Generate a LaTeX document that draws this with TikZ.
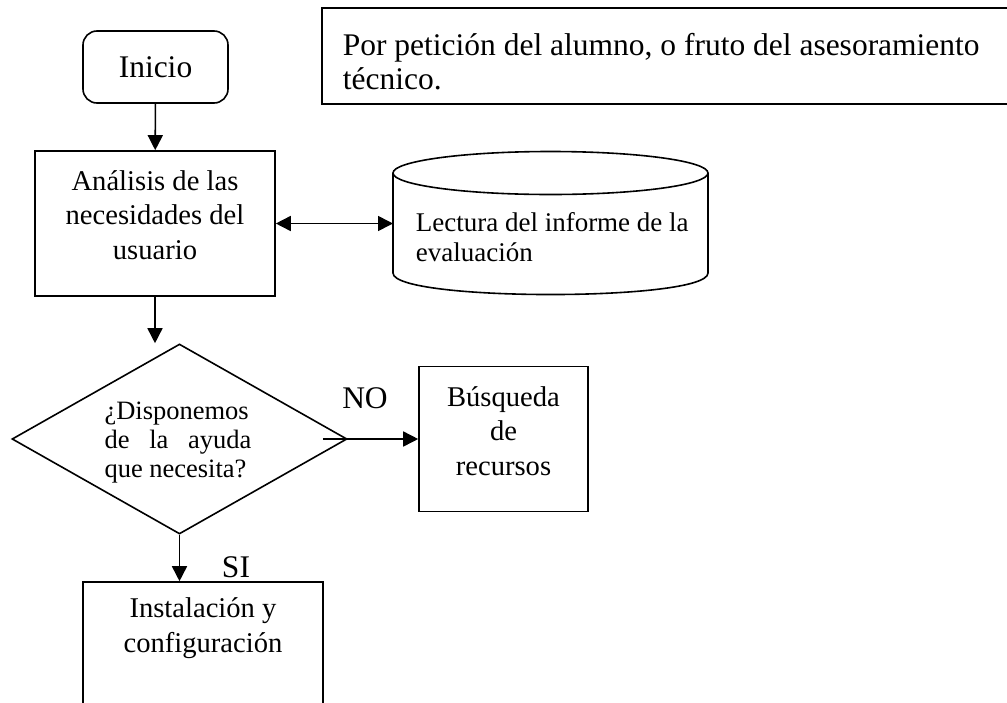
\documentclass[tikz,border=0pt]{standalone}
\usepackage{fontspec}
\setmainfont{Liberation Serif}
\usetikzlibrary{arrows.meta,shapes.geometric}

\begin{document}
\begin{tikzpicture}[x=1pt, y=-1pt, line width=1.6pt,
  caja/.style={draw, rectangle, inner sep=0pt},
  texto/.style={align=center, inner sep=0pt, font=\fontsize{28.6}{34.5}\selectfont},
  grande/.style={align=center, inner sep=0pt, font=\fontsize{31.5}{34}\selectfont},
  chico/.style={inner sep=0pt, font=\fontsize{27}{29.5}\selectfont},
  punta/.tip={Triangle[length=15pt, width=15pt]},
  flecha/.style={-punta}]
\useasboundingbox (0,0) rectangle (1007,702);
% nota de arriba
\node[caja, minimum width=700pt, minimum height=96pt] (nota) at (672,56) {};
\node[grande, align=left, anchor=west] (nota-txt) at (342,62) {Por petición del alumno, o fruto del asesoramiento\\técnico.};
\node[caja, grande, rounded corners=14pt, minimum width=145pt, minimum height=72pt] (inicio) at (155.5,67) {Inicio};
\node[caja, minimum width=240pt, minimum height=145pt] (analisis) at (155,223.5) {};
\node[texto] (analisis-txt) at (155,215) {Análisis de las\\necesidades del\\usuario};
% cilindro
\draw (550.5,173) ellipse [x radius=157.5, y radius=21.5];
\draw (393,173) -- (393,273) .. controls (393,301.7) and (708,301.7) .. (708,273) -- (708,173);
\coordinate (cilindro) at (393,223.5);
\node[chico, align=left, anchor=west] (lectura) at (415,237) {Lectura del informe de la\\evaluación};
\draw[punta-punta] (analisis.east) -- (cilindro);
\node[draw, diamond, minimum width=335pt, minimum height=190pt, inner sep=0pt] (decision) at (179.5,439) {};
\node[chico, font=\fontsize{26.5}{29}\selectfont, text width=147pt, align=justify] (decision-txt) at (178,443) {\hyphenpenalty=10000 ¿Disponemos de la ayuda que necesita?};
\draw[flecha] (inicio) -- (analisis);
\draw[flecha] (analisis.south) -- (analisis.south |- decision.north);
\node[caja, minimum width=169pt, minimum height=145pt] (busqueda) at (503.5,439) {};
\node[texto] (busqueda-txt) at (503.5,431) {Búsqueda\\de\\recursos};
\draw[flecha] ([xshift=-25pt]decision.east) -- (busqueda.west);
\node[grande] (no) at (365,398) {NO};
\node[caja, minimum width=240pt, minimum height=145pt] (instalacion) at (203,654.5) {};
\node[texto] (instalacion-txt) at (203,628) {Instalación y\\configuración};
\draw[flecha] (decision.south) -- (decision.south |- instalacion.north);
\node[grande] (si) at (236,567) {SI};
\end{tikzpicture}
\end{document}
